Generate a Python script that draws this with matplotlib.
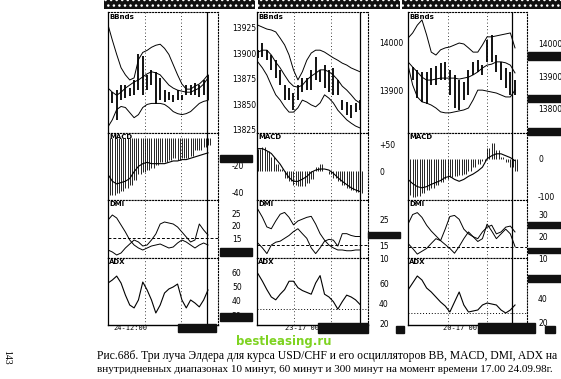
import numpy as np
import matplotlib
matplotlib.use("Agg")
from matplotlib import pyplot as plt
from matplotlib.patches import Rectangle

W, H = 561, 379

# ---- panel 1 : 10 minutes ----
p1_upper = [13928, 13913, 13899, 13886, 13879, 13874, 13876, 13894, 13901, 13903, 13906, 13908,
            13909, 13905, 13899, 13889, 13879, 13870, 13865, 13865, 13868, 13870, 13874, 13879]
p1_mid = [13866, 13862, 13859, 13862, 13866, 13869, 13872, 13874, 13877, 13880, 13882, 13881,
          13879, 13874, 13869, 13866, 13864, 13863, 13862, 13862, 13864, 13866, 13870, 13876]
p1_lower = [13828, 13835, 13845, 13848, 13847, 13842, 13837, 13840, 13847, 13850, 13851, 13851,
            13851, 13850, 13847, 13843, 13841, 13840, 13841, 13843, 13847, 13851, 13853, 13854]
p1_high = [13866, 13862, 13864, 13869, 13869, 13866, 13874, 13899, 13897, 13879, 13884, 13882,
           13876, 13864, 13862, 13859, 13864, 13859, 13869, 13869, 13871, 13869, 13874, 13879]
p1_low = [13854, 13851, 13835, 13854, 13856, 13858, 13859, 13864, 13859, 13864, 13869, 13850,
          13854, 13852, 13854, 13852, 13854, 13854, 13859, 13859, 13859, 13857, 13859, 13854]
p1_hist = [-42, -42, -41, -39, -37, -35, -31, -27, -25, -24, -22, -20,
           -18, -18, -16, -15, -16, -15, -15, -13, -9, -9, -7, -5]
p1_macd = [-27, -32, -34, -33, -32, -30, -25, -21, -19, -18, -19, -19,
           -19, -19, -18, -17, -17, -16, -16, -15, -14, -13, -12, -11]
p1_dip = [22.2, 24.2, 23, 20.2, 17.4, 14.2, 12.2, 11, 10.2, 11, 11.8, 12.2,
          12.6, 11.8, 11, 11.4, 13, 14.2, 13.4, 12.2, 11, 12.2, 13, 12.2]
p1_dim = [10.2, 9.4, 8.2, 9, 11, 12.6, 14.2, 13.4, 11.8, 12.2, 14.2, 16.6,
          20.6, 21.4, 21, 20.6, 19.4, 17.4, 15.4, 13.4, 14.2, 20.6, 18.2, 16.2]
p1_adx = [52.4, 54.5, 57.2, 52.4, 44.1, 37.2, 35.2, 40.7, 53.1, 47.6, 40.7, 31.7,
          37.2, 45.5, 48.3, 49.7, 51.7, 40.7, 35.2, 40.7, 38.6, 35.9, 40.7, 47.6]

# ---- panel 2 : 60 minutes ----
p2_upper = [14035, 14031, 14027, 14025, 14021, 14008, 13994, 13973, 13942, 13921, 13938, 13962,
            13977, 13983, 13983, 13979, 13973, 13967, 13962, 13956, 13952, 13946, 13942, 13938]
p2_mid = [13979, 13983, 13983, 13973, 13958, 13946, 13931, 13917, 13908, 13906, 13910, 13921,
          13929, 13935, 13942, 13942, 13938, 13931, 13921, 13908, 13900, 13890, 13879, 13873]
p2_lower = [13958, 13946, 13931, 13910, 13890, 13879, 13865, 13854, 13854, 13863, 13879, 13875,
            13869, 13865, 13873, 13890, 13883, 13873, 13858, 13848, 13838, 13831, 13825, 13821]
p2_high = [13983, 13998, 13983, 13973, 13962, 13942, 13910, 13904, 13894, 13910, 13925, 13925,
           13942, 13969, 13942, 13952, 13942, 13946, 13921, 13879, 13875, 13869, 13873, 13879]
p2_low = [13967, 13969, 13962, 13942, 13925, 13910, 13879, 13879, 13858, 13879, 13896, 13900,
          13900, 13921, 13917, 13904, 13896, 13890, 13890, 13858, 13848, 13842, 13854, 13858]
p2_hist = [42, 46, 38, 27, 13, 4, -12, -19, -25, -27, -27, -23,
           -15, 8, 13, 0, -6, -12, -19, -25, -31, -35, -38, -40]
p2_macd = [42, 42, 38, 33, 23, 13, 0, -12, -19, -19, -15, -10,
           -2, 2, 4, 4, 2, -4, -12, -19, -25, -31, -35, -38]
p2_dip = [28.7, 25.7, 22, 21.3, 24.3, 26.9, 27.6, 25.7, 22.8, 24.3, 25, 25.7,
          26.1, 23.1, 19.4, 16.9, 15, 13.9, 13.1, 13.1, 12.8, 12.8, 13.1, 13.1]
p2_dim = [15.7, 13.9, 11.7, 15, 16.1, 16.5, 17.6, 18.7, 20.2, 21.3, 19.4, 17.6,
          13.9, 11.7, 13.9, 16.5, 17.2, 16.9, 14.6, 19.4, 19.4, 18.7, 18.3, 18.3]
p2_adx = [69.1, 61.8, 53.6, 46.4, 43.6, 49.1, 53.6, 61.8, 61.8, 55.5, 52.7, 50.9,
          49.1, 60, 67.3, 49.1, 46.4, 41.8, 34.5, 41.8, 48.2, 46.4, 43.6, 39.1]

# ---- panel 3 : 300 minutes ----
p3_upper = [14018, 14034, 14058, 14074, 14028, 13975, 13966, 13982, 13988, 13991, 13997, 14003,
            14000, 13988, 13975, 13975, 13997, 14022, 14022, 14025, 14028, 14031, 14034, 13988]
p3_mid = [13945, 13929, 13914, 13898, 13889, 13889, 13892, 13895, 13895, 13895, 13895, 13892,
          13895, 13898, 13905, 13914, 13926, 13935, 13938, 13945, 13945, 13942, 13935, 13911]
p3_lower = [13935, 13874, 13837, 13822, 13818, 13812, 13803, 13791, 13788, 13788, 13791, 13794,
            13797, 13803, 13828, 13858, 13858, 13855, 13852, 13849, 13843, 13837, 13837, 13858]
p3_high = [13920, 13929, 13920, 13914, 13914, 13926, 13932, 13942, 13945, 13920, 13905, 13889,
           13883, 13920, 13945, 13951, 13935, 14012, 14028, 13966, 13945, 13926, 13914, 13889]
p3_low = [13889, 13889, 13834, 13822, 13815, 13874, 13874, 13889, 13889, 13843, 13803, 13797,
          13828, 13843, 13905, 13914, 13905, 13945, 13945, 13914, 13889, 13865, 13843, 13843]
p3_hist = [-94, -100, -97, -89, -81, -76, -70, -62, -54, -49, -46, -43,
           -40, -32, -22, -13, -5, 27, 40, 22, 5, -8, -22, -32]
p3_macd = [-54, -65, -73, -76, -73, -67, -62, -57, -49, -46, -54, -59,
           -54, -46, -40, -32, -22, 0, 8, 13, 13, 8, 3, -5]
p3_dip = [25.6, 30, 30.9, 28.7, 25.1, 22.4, 20.2, 18, 16.2, 14.4, 12.2, 15.3,
          18.9, 22, 19.8, 17.6, 18.9, 25.6, 22.4, 18.9, 21.1, 23.3, 21.1, 15.3]
p3_dim = [16.7, 14.4, 11.8, 13.1, 14.4, 16.7, 18.9, 18, 23.3, 29.1, 29.6, 27.8,
          23.3, 21.1, 19.8, 18.9, 22, 24.2, 25.1, 21.1, 22, 24.2, 24.7, 22]
p3_adx = [46.4, 52, 57.6, 54.4, 48, 44.8, 40.8, 36.8, 33.6, 28.8, 36.8, 44.8,
          34.4, 28.8, 29.6, 30.4, 34.4, 36, 35.2, 34.4, 30.4, 28, 30.4, 34.4]

panels = [
    dict(left=108, right=218, d0=108, d1=208, vline=207, pad=10, date="24-12:00", date_x=113,
         bands=(p1_upper, p1_mid, p1_lower), hl=(p1_high, p1_low),
         hist=p1_hist, macd=p1_macd, dmi=(p1_dip, p1_dim), adx=p1_adx,
         bb_lim=(13822, 13940.6), bb_ticks=[13925, 13900, 13875, 13850, 13825],
         macd_lim=(-45.9, 3.7), macd_ticks=[-20, -40], macd_labels=["-20", "-40"],
         dmi_lim=(7, 30.2), dmi_ticks=[25, 20, 15],
         adx_lim=(23.4, 69.7), adx_ticks=[60, 50, 40, 30], adx_ref=None),
    dict(left=257, right=368, d0=258, d1=360, vline=360, pad=8, date="23-17 00", date_x=285,
         bands=(p2_upper, p2_mid, p2_lower), hl=(p2_high, p2_low),
         hist=p2_hist, macd=p2_macd, dmi=(p2_dip, p2_dim), adx=p2_adx,
         bb_lim=(13810.5, 14062.5), bb_ticks=[14000, 13900],
         macd_lim=(-53.8, 71.2), macd_ticks=[50, 0], macd_labels=["+50", "0"],
         dmi_lim=(10.9, 32.4), dmi_ticks=[25, 15, 10],
         adx_lim=(19, 84.5), adx_ticks=[60, 40, 20], adx_ref=34.5),
    dict(left=408, right=527, d0=408, d1=515, vline=512, pad=8, date="20-17 00", date_x=443,
         bands=(p3_upper, p3_mid, p3_lower), hl=(p3_high, p3_low),
         hist=p3_hist, macd=p3_macd, dmi=(p3_dip, p3_dim), adx=p3_adx,
         bb_lim=(13726, 14098.5), bb_ticks=[14000, 13900, 13800],
         macd_lim=(-108, 67.5), macd_ticks=[0, -100], macd_labels=["0", "-100"],
         dmi_lim=(10.9, 36.7), dmi_ticks=[30, 20, 10],
         adx_lim=(18.4, 72), adx_ticks=[40, 20], adx_ref=28),
]

rows = [("BBnds", 12, 133), ("MACD", 133, 200), ("DMI", 200, 258), ("ADX", 258, 325)]


def px(x0, y0, x1, y1):
    # pixel box (top-left origin) -> figure fraction rect
    return [x0 / W, 1 - y1 / H, (x1 - x0) / W, (y1 - y0) / H]


fig = plt.figure(figsize=(W / 100, H / 100), dpi=100)
fig.patch.set_facecolor("white")

for p in panels:
    x = np.arange(len(p["adx"]))
    scale = (p["d1"] - p["d0"]) / (len(x) - 1)
    xlo = (p["left"] - p["d0"]) / scale
    xhi = (len(x) - 1) + (p["right"] - p["d1"]) / scale
    xv = (p["vline"] - p["d0"]) / scale

    for name, y0, y1 in rows:
        ax = fig.add_axes(px(p["left"], y0, p["right"], y1))
        ax.set_xlim(xlo, xhi)
        ax.set_xticks([])
        ax.yaxis.tick_right()
        ax.tick_params(axis="y", length=0, pad=p["pad"], labelsize=5.5)
        for s in ["top", "bottom", "right"]:
            ax.spines[s].set_linestyle(":")
            ax.spines[s].set_linewidth(0.8)
        ax.spines["left"].set_linewidth(0.9)
        ax.text(0.01, 0.98, name, transform=ax.transAxes, fontsize=5,
                va="top", ha="left", fontweight="bold")
        ax.axvline(xv, color="black", lw=0.9)
        # sparse dotted grid
        for gx in np.linspace(xlo, xhi, 4)[1:-1]:
            ax.axvline(gx, color="black", lw=0.6, ls=(0, (1, 3)))

        if name == "BBnds":
            for band in p["bands"]:
                ax.plot(x, band, color="black", lw=0.7)
            ax.vlines(x, p["hl"][1], p["hl"][0], color="black", lw=1.3)
            ax.set_ylim(*p["bb_lim"])
            ax.set_yticks(p["bb_ticks"])
        elif name == "MACD":
            ax.vlines(x, 0, p["hist"], color="black", lw=0.6)
            ax.vlines(x + 0.5, 0, p["hist"], color="black", lw=0.6)
            ax.plot(x, p["macd"], color="black", lw=0.8)
            ax.set_ylim(*p["macd_lim"])
            ax.set_yticks(p["macd_ticks"])
            ax.set_yticklabels(p["macd_labels"])
        elif name == "DMI":
            ax.plot(x, p["dmi"][0], color="black", lw=0.7)
            ax.plot(x, p["dmi"][1], color="black", lw=0.7)
            ax.axhline(15, color="black", lw=0.7, ls=(0, (3, 2)))
            ax.set_ylim(*p["dmi_lim"])
            ax.set_yticks(p["dmi_ticks"])
        else:
            ax.plot(x, p["adx"], color="black", lw=0.8)
            if p["adx_ref"] is not None:
                ax.axhline(p["adx_ref"], color="black", lw=0.7, ls=(0, (1, 2)))
            ax.set_ylim(*p["adx_lim"])
            ax.set_yticks(p["adx_ticks"])
            ax.spines["bottom"].set_linestyle("-")
            ax.spines["bottom"].set_linewidth(1.0)

    fig.text(p["date_x"] / W, 1 - 328 / H, p["date"], fontsize=5,
             family="DejaVu Sans Mono", va="center")

# speckled header strip of the scan
for hx0, hx1 in [(104, 255), (258, 400), (402, 561)]:
    fig.patches.append(Rectangle((hx0 / W, 1 - 9 / H), (hx1 - hx0) / W, 9 / H,
                                 transform=fig.transFigure, facecolor="#111111",
                                 edgecolor="white", hatch="...", lw=0, zorder=5))

# redaction-like black blocks from the scan
blocks = [(220, 155, 252, 162), (220, 248, 252, 256), (220, 313, 252, 321),
          (178, 324, 216, 332), (368, 232, 400, 238), (318, 323, 368, 333), (396, 326, 404, 333),
          (528, 52, 561, 60), (528, 95, 561, 102), (528, 128, 561, 135),
          (528, 222, 561, 228), (528, 248, 561, 253), (528, 275, 561, 282),
          (478, 323, 535, 333), (545, 326, 555, 333)]
for bx0, by0, bx1, by1 in blocks:
    fig.patches.append(Rectangle((bx0 / W, 1 - by1 / H), (bx1 - bx0) / W, (by1 - by0) / H,
                                 transform=fig.transFigure, color="#111111", zorder=5))

fig.text(284 / W, 1 - 342 / H, "bestleasing.ru", color="#7ed321", fontsize=8.5,
         fontweight="bold", ha="center", va="center", family="DejaVu Sans", zorder=6)
fig.text(97 / W, 1 - 356 / H,
         "Рис.68б. Три луча Элдера для курса USD/CHF и его осцилляторов BB, MACD, DMI, ADX на",
         fontsize=8.4, family="Liberation Serif", va="center", ha="left")
fig.text(97 / W, 1 - 370 / H,
         "внутридневных диапазонах 10 минут, 60 минут и 300 минут на момент времени 17.00 24.09.98г.",
         fontsize=8.0, family="Liberation Serif", va="center", ha="left")
fig.text(7 / W, 1 - 357 / H, "143", rotation=270, fontsize=7, family="Liberation Serif",
         ha="center", va="center")

plt.savefig("out.png", dpi=100)
